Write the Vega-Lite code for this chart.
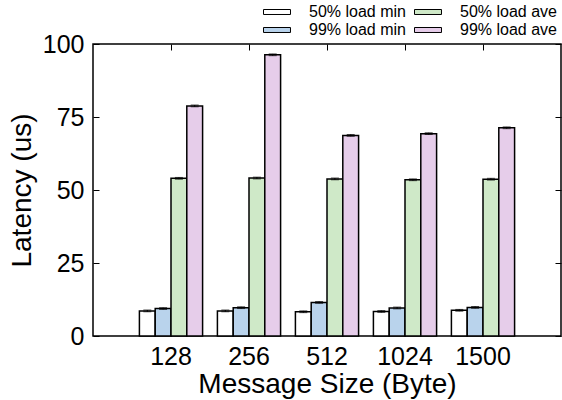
{
  "$schema": "https://vega.github.io/schema/vega-lite/v6.json",
  "width": 468,
  "height": 292,
  "autosize": {"type": "none"},
  "padding": {"left": 93, "top": 44, "right": 1, "bottom": 64},
  "background": "white",
  "config": {
    "font": "Liberation Sans",
    "view": {"stroke": "black", "strokeWidth": 1.5},
    "axis": {"labelFont": "Liberation Sans", "titleFont": "Liberation Sans", "labelColor": "black", "titleColor": "black", "titleFontWeight": "normal", "grid": false, "domain": false, "tickColor": "black", "tickWidth": 1}
  },
  "data": {"values": [
    {"size": "128", "series": "50% load min", "v": 8.6, "lo": 8.3, "hi": 8.9},
    {"size": "128", "series": "99% load min", "v": 9.4, "lo": 9.1, "hi": 9.7},
    {"size": "128", "series": "50% load ave", "v": 54.0, "lo": 53.7, "hi": 54.3},
    {"size": "128", "series": "99% load ave", "v": 78.8, "lo": 78.5, "hi": 79.1},
    {"size": "256", "series": "50% load min", "v": 8.6, "lo": 8.3, "hi": 8.9},
    {"size": "256", "series": "99% load min", "v": 9.7, "lo": 9.4, "hi": 10.0},
    {"size": "256", "series": "50% load ave", "v": 54.1, "lo": 53.8, "hi": 54.4},
    {"size": "256", "series": "99% load ave", "v": 96.3, "lo": 96.0, "hi": 96.6},
    {"size": "512", "series": "50% load min", "v": 8.3, "lo": 8.0, "hi": 8.6},
    {"size": "512", "series": "99% load min", "v": 11.5, "lo": 11.2, "hi": 11.8},
    {"size": "512", "series": "50% load ave", "v": 53.8, "lo": 53.5, "hi": 54.1},
    {"size": "512", "series": "99% load ave", "v": 68.7, "lo": 68.4, "hi": 69.0},
    {"size": "1024", "series": "50% load min", "v": 8.4, "lo": 8.1, "hi": 8.7},
    {"size": "1024", "series": "99% load min", "v": 9.6, "lo": 9.3, "hi": 9.9},
    {"size": "1024", "series": "50% load ave", "v": 53.5, "lo": 53.2, "hi": 53.8},
    {"size": "1024", "series": "99% load ave", "v": 69.3, "lo": 69.0, "hi": 69.6},
    {"size": "1500", "series": "50% load min", "v": 8.8, "lo": 8.5, "hi": 9.1},
    {"size": "1500", "series": "99% load min", "v": 9.8, "lo": 9.5, "hi": 10.1},
    {"size": "1500", "series": "50% load ave", "v": 53.7, "lo": 53.4, "hi": 54.0},
    {"size": "1500", "series": "99% load ave", "v": 71.3, "lo": 71.0, "hi": 71.6}
  ]},
  "layer": [
    {
      "mark": {"type": "bar", "stroke": "black", "strokeWidth": 1.5},
      "encoding": {
        "x": {"field": "size", "type": "nominal", "sort": ["128", "256", "512", "1024", "1500"],
          "scale": {"paddingInner": 0.19, "paddingOuter": 0.595},
          "axis": {"orient": "bottom", "title": "Message Size (Byte)", "labelAngle": 0, "labelFontSize": 25, "titleFontSize": 28, "tickSize": -6, "labelPadding": 14, "titlePadding": 1}},
        "xOffset": {"field": "series", "type": "nominal", "sort": ["50% load min", "99% load min", "50% load ave", "99% load ave"], "scale": {"paddingInner": 0, "paddingOuter": 0}},
        "y": {"field": "v", "type": "quantitative", "scale": {"domain": [0, 100], "nice": false},
          "axis": {"orient": "left", "title": "Latency (us)", "values": [0, 25, 50, 75, 100], "labelFontSize": 25, "titleFontSize": 28, "tickSize": -6, "labelPadding": 15, "titlePadding": 6}},
        "color": {"field": "series", "type": "nominal", "sort": ["50% load min", "99% load min", "50% load ave", "99% load ave"],
          "scale": {"domain": ["50% load min", "99% load min", "50% load ave", "99% load ave"], "range": ["#ffffff", "#b9d3ec", "#cfe9c8", "#e6cdea"]},
          "legend": {"title": null, "orient": "none", "legendX": 176, "legendY": -40, "columns": 2, "direction": "horizontal",
            "values": ["50% load min", "50% load ave", "99% load min", "99% load ave"],
            "symbolType": "M-2,-0.37H2V0.37H-2Z", "symbolSize": 182, "symbolStrokeColor": "black", "symbolStrokeWidth": 1,
            "labelFontSize": 16, "labelColor": "black", "labelFont": "Liberation Sans", "labelOffset": 24, "columnPadding": 6, "rowPadding": 2}}
      }
    },
    {
      "mark": {"type": "errorbar", "ticks": {"size": 8, "color": "black", "strokeWidth": 1.5}, "rule": {"color": "black", "strokeWidth": 1}},
      "encoding": {
        "x": {"field": "size", "type": "nominal", "sort": ["128", "256", "512", "1024", "1500"],
          "axis": {"orient": "top", "labels": false, "title": null, "tickSize": -6}},
        "xOffset": {"field": "series", "type": "nominal", "sort": ["50% load min", "99% load min", "50% load ave", "99% load ave"]},
        "y": {"field": "lo", "type": "quantitative",
          "axis": {"orient": "right", "labels": false, "title": null, "values": [0, 25, 50, 75, 100], "tickSize": -6}},
        "y2": {"field": "hi"}
      }
    }
  ],
  "resolve": {"axis": {"x": "independent", "y": "independent"}}
}
